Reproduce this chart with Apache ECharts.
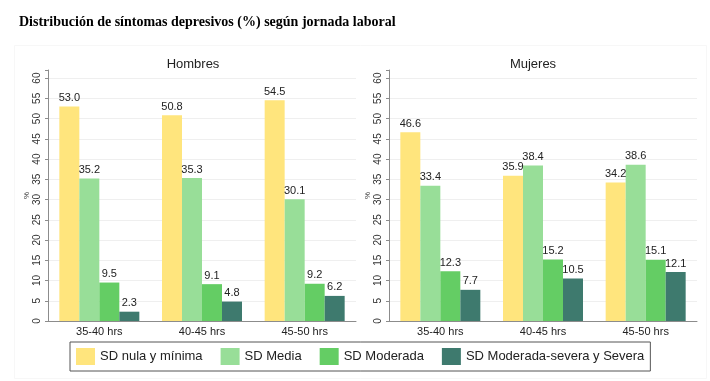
<!DOCTYPE html>
<html>
<head>
<meta charset="utf-8">
<script src="https://cdn.jsdelivr.net/npm/echarts@6/dist/echarts.min.js"></script>
<style>
  html, body { margin: 0; padding: 0; background: #ffffff; }
  #chart { width: 710px; height: 381px; }
</style>
</head>
<body>
<div id="chart"></div>
<script>
const categories = ['35-40 hrs', '40-45 hrs', '45-50 hrs'];
const seriesNames = ['SD nula y mínima', 'SD Media', 'SD Moderada', 'SD Moderada-severa y Severa'];
const hombresNula = [53.0, 50.8, 54.5];
const hombresMedia = [35.2, 35.3, 30.1];
const hombresModerada = [9.5, 9.1, 9.2];
const hombresSevera = [2.3, 4.8, 6.2];
const mujeresNula = [46.6, 35.9, 34.2];
const mujeresMedia = [33.4, 38.4, 38.6];
const mujeresModerada = [12.3, 15.2, 15.1];
const mujeresSevera = [7.7, 10.5, 12.1];
const colors = ['#FFE57D', '#98DE98', '#64CD64', '#3E7A6E'];

const chart = echarts.init(document.getElementById('chart'), null, { renderer: 'canvas' });
const font = 'Liberation Sans, Arial, sans-serif';

const gridColors = [];
for (let i = 0; i < 13; i++) gridColors.push('#efefef');
gridColors.push('rgba(0,0,0,0)');

function xAxisCfg(gi) {
  return {
    type: 'category', gridIndex: gi, data: categories,
    axisLine: { lineStyle: { color: '#8c8c8c', width: 1 } },
    axisTick: { show: false },
    axisLabel: { color: '#222', fontSize: 11, fontFamily: font, margin: 5 }
  };
}
function yAxisCfg(gi) {
  return {
    type: 'value', gridIndex: gi, min: 0, max: 62, interval: 5,
    name: '%', nameLocation: 'middle', nameGap: 15,
    nameTextStyle: { fontSize: 8, color: '#333', fontFamily: font },
    axisLine: { show: true, lineStyle: { color: '#8c8c8c', width: 1 } },
    axisTick: { show: true, length: 3, lineStyle: { color: '#8c8c8c' } },
    axisLabel: {
      rotate: 90, fontSize: 10, color: '#333', fontFamily: font, margin: 6,
      formatter: v => (v % 5 === 0 ? String(v) : '')
    },
    splitLine: { show: true, lineStyle: { color: gridColors, width: 1 } }
  };
}
function barSeries(name, data, gi, color) {
  return {
    type: 'bar', name: name, data: data,
    xAxisIndex: gi, yAxisIndex: gi,
    barWidth: 20, barGap: '0%',
    itemStyle: { color: color },
    label: {
      show: true, position: 'top', distance: 3,
      fontSize: 11, color: '#222', fontFamily: font,
      formatter: p => p.value.toFixed(1)
    }
  };
}

const hombres = [hombresNula, hombresMedia, hombresModerada, hombresSevera];
const mujeres = [mujeresNula, mujeresMedia, mujeresModerada, mujeresSevera];
const series = [];
seriesNames.forEach((n, i) => series.push(barSeries(n, hombres[i], 0, colors[i])));
seriesNames.forEach((n, i) => series.push(barSeries(n, mujeres[i], 1, colors[i])));

chart.setOption({
  animation: false,
  backgroundColor: '#ffffff',
  graphic: [{
    type: 'rect', left: 14, top: 45, z: -10,
    shape: { width: 692, height: 333 },
    style: { fill: '#ffffff', stroke: '#f7f7f7', lineWidth: 1 }
  }],
  title: [
    { text: 'Distribución de síntomas depresivos (%) según jornada laboral', left: 14, top: 10,
      textStyle: { fontFamily: 'Liberation Serif, Times New Roman, serif', fontWeight: 'bold', fontSize: 14, color: '#000' } },
    { text: 'Hombres', left: 188, top: 53, textAlign: 'center',
      textStyle: { fontFamily: font, fontWeight: 'normal', fontSize: 13, color: '#222' } },
    { text: 'Mujeres', left: 528, top: 53, textAlign: 'center',
      textStyle: { fontFamily: font, fontWeight: 'normal', fontSize: 13, color: '#222' } }
  ],
  legend: {
    data: seriesNames,
    left: 70, top: 342,
    orient: 'horizontal',
    padding: [6, 6, 6, 6],
    itemWidth: 19, itemHeight: 17, itemGap: 18,
    icon: 'rect',
    borderColor: '#555', borderWidth: 1,
    textStyle: { fontSize: 13, color: '#222', fontFamily: font }
  },
  grid: [
    { left: 48, top: 70, width: 308, bottom: 60 },
    { left: 389, top: 70, width: 308, bottom: 60 }
  ],
  xAxis: [xAxisCfg(0), xAxisCfg(1)],
  yAxis: [yAxisCfg(0), yAxisCfg(1)],
  series: series
});
</script>
</body>
</html>
